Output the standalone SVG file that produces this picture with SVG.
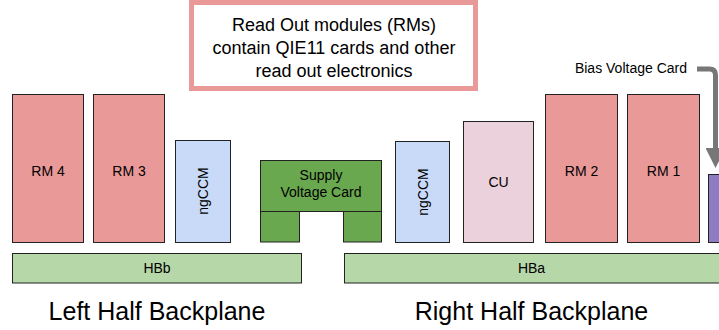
<svg xmlns="http://www.w3.org/2000/svg" width="719" height="330" viewBox="0 0 719 330">
<style>
  text { font-family: "Liberation Sans", Arial, sans-serif; fill: #000; }
  .box { stroke: #222; stroke-width: 1; }
  .rm { fill: #ea9999; }
  .ccm { fill: #c9daf8; }
  .cu { fill: #ead1dc; }
  .sv { fill: #6aa84f; }
  .hb { fill: #b6d7a8; }
  .bv { fill: #8e7cc3; }
  .lbl { font-size: 14px; text-anchor: middle; }
  .big { font-size: 25px; text-anchor: middle; }
  .note { font-size: 18px; text-anchor: middle; }
</style>
<defs>
  <marker id="ah" markerWidth="4" markerHeight="4" refX="2" refY="2" orient="auto" markerUnits="strokeWidth">
    <path d="M0,0 L4,2 L0,4 Z" fill="#777"/>
  </marker>
</defs>

<g id="note">
  <rect x="191.5" y="2.5" width="284" height="86" fill="#fff" stroke="#ea9999" stroke-width="5"/>
  <text class="note" x="334" y="31">Read Out modules (RMs)</text>
  <text class="note" x="334" y="54">contain QIE11 cards and other</text>
  <text class="note" x="334" y="77">read out electronics</text>
</g>

<g id="rm4"><rect class="box rm" x="12.5" y="94.5" width="71" height="148"/><text class="lbl" x="48" y="176">RM 4</text></g>
<g id="rm3"><rect class="box rm" x="93.5" y="94.5" width="71" height="148"/><text class="lbl" x="129" y="176">RM 3</text></g>
<g id="ngccm-left"><rect class="box ccm" x="175.5" y="140.5" width="55" height="102"/><text class="lbl" transform="translate(208,191) rotate(-90)">ngCCM</text></g>
<g id="supply">
  <rect class="box sv" x="260.5" y="160.5" width="121" height="51"/>
  <rect class="box sv" x="260.5" y="211.5" width="39" height="30.5"/>
  <rect class="box sv" x="343.5" y="211.5" width="38" height="30.5"/>
  <text class="lbl" x="321" y="180">Supply</text>
  <text class="lbl" x="321" y="197">Voltage Card</text>
</g>
<g id="ngccm-right"><rect class="box ccm" x="395.5" y="141.5" width="54" height="101"/><text class="lbl" transform="translate(427.5,192) rotate(-90)">ngCCM</text></g>
<g id="cu"><rect class="box cu" x="463.5" y="121.5" width="70" height="121"/><text class="lbl" x="498.5" y="187">CU</text></g>
<g id="rm2"><rect class="box rm" x="545.5" y="94.5" width="72" height="148"/><text class="lbl" x="581.5" y="176">RM 2</text></g>
<g id="rm1"><rect class="box rm" x="627.5" y="94.5" width="72" height="148"/><text class="lbl" x="663.5" y="176">RM 1</text></g>
<g id="bias-card"><rect class="box bv" x="708.5" y="174.5" width="20" height="68"/></g>
<g id="bias-label"><text x="687" y="73" font-size="14" text-anchor="end">Bias Voltage Card</text></g>

<g id="hbb"><rect class="box hb" x="12.5" y="253.5" width="289" height="29.5"/><text class="lbl" x="157" y="273">HBb</text></g>
<g id="hba"><rect class="box hb" x="344.5" y="253.5" width="385" height="29.5"/><text class="lbl" x="531.5" y="273">HBa</text></g>

<g id="left-title"><text class="big" x="157" y="320">Left Half Backplane</text></g>
<g id="right-title"><text class="big" x="531.5" y="320">Right Half Backplane</text></g>

<g id="connectors">
  <path d="M697,69 H709.5 Q715.5,69 715.5,75 V158" fill="none" stroke="#777" stroke-width="5" marker-end="url(#ah)"/>
</g>
</svg>
